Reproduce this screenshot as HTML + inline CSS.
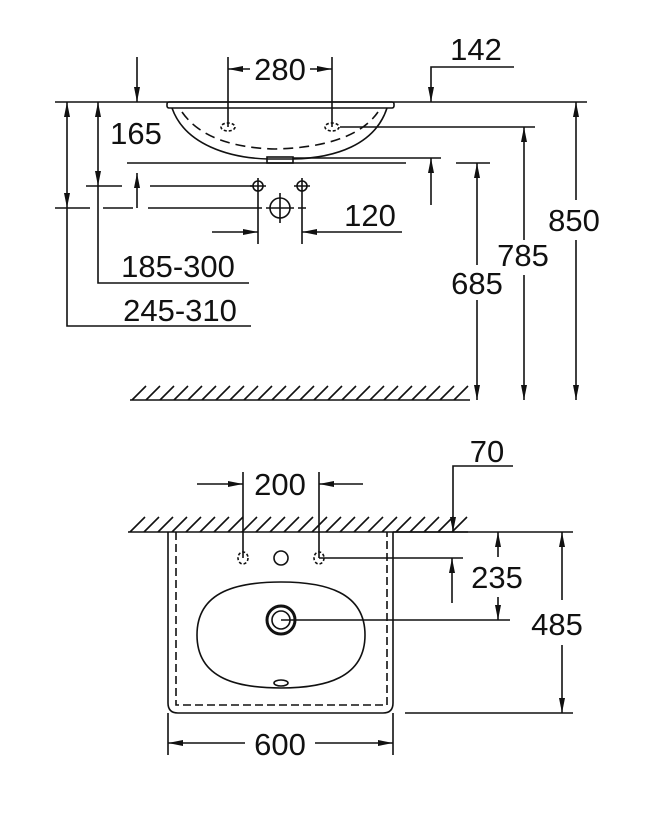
<!DOCTYPE html>
<html><head><meta charset="utf-8"><style>
html,body{margin:0;padding:0;background:#fff;}
svg{display:block;}
text{font-family:"Liberation Sans",sans-serif;font-size:31px;fill:#111;}
</style></head><body>
<svg width="671" height="814" viewBox="0 0 671 814" xmlns="http://www.w3.org/2000/svg">
<g stroke="#111" stroke-width="1.6" fill="none">
<line x1="55" y1="102" x2="587" y2="102"/>
<rect x="167" y="102" width="227" height="6" rx="2"/>
<path d="M172 108 C185 145 230 158 268 159 L293 159 C335 158 375 145 387 108"/>
<path d="M182 112 C200 138 235 148 275 149 C320 148 360 138 378 112" stroke-dasharray="10 6"/>
<rect x="267" y="157" width="26" height="6"/>
<g stroke-dasharray="3 2"><ellipse cx="228" cy="127" rx="7" ry="4"/><ellipse cx="332" cy="127" rx="7" ry="4"/></g>
<line x1="228" y1="57" x2="228" y2="127"/><line x1="332" y1="57" x2="332" y2="127"/>
<line x1="228" y1="69" x2="250" y2="69"/><line x1="310" y1="69" x2="332" y2="69"/>
<polyline points="431,102 431,67 514,67"/>
<line x1="340" y1="127" x2="535" y2="127"/>
<line x1="293" y1="158" x2="441" y2="158"/>
<line x1="127" y1="163" x2="406" y2="163"/>
<line x1="456" y1="163" x2="490" y2="163"/>
<line x1="431" y1="158" x2="431" y2="205"/>
<line x1="477" y1="163" x2="477" y2="265"/><line x1="477" y1="300" x2="477" y2="400"/>
<line x1="524" y1="127" x2="524" y2="240"/><line x1="524" y1="275" x2="524" y2="400"/>
<line x1="576" y1="102" x2="576" y2="200"/><line x1="576" y1="240" x2="576" y2="400"/>
<line x1="130" y1="400" x2="470" y2="400"/>
<path d="M132 400 L146 386 M146 400 L160 386 M160 400 L174 386 M174 400 L188 386 M188 400 L202 386 M202 400 L216 386 M216 400 L230 386 M230 400 L244 386 M244 400 L258 386 M258 400 L272 386 M272 400 L286 386 M286 400 L300 386 M300 400 L314 386 M314 400 L328 386 M328 400 L342 386 M342 400 L356 386 M356 400 L370 386 M370 400 L384 386 M384 400 L398 386 M398 400 L412 386 M412 400 L426 386 M426 400 L440 386 M440 400 L454 386 M454 400 L468 386"/>
<line x1="137" y1="57" x2="137" y2="102"/>
<line x1="137" y1="173" x2="137" y2="208"/>
<polyline points="98,102 98,283 249,283"/>
<polyline points="67,102 67,326 251,326"/>
<path d="M86 186 H122 M150 186 H253"/>
<path d="M55 208 H90 M103 208 H133 M148 208 H262 M298 208 H306"/>
<circle cx="258" cy="186" r="5"/><circle cx="302" cy="186" r="5"/>
<path d="M258 178 V244 M250 186 H266 M302 178 V244 M294 186 H310"/>
<circle cx="280" cy="208" r="10"/>
<path d="M280 193 V223 M266 208 H294"/>
<line x1="212" y1="232" x2="258" y2="232"/><line x1="302" y1="232" x2="402" y2="232"/>

<line x1="128" y1="532" x2="468" y2="532"/>
<line x1="393" y1="532" x2="573" y2="532"/>
<path d="M130 532 L145 517 M144 532 L159 517 M158 532 L173 517 M172 532 L187 517 M186 532 L201 517 M200 532 L215 517 M214 532 L229 517 M228 532 L243 517 M242 532 L257 517 M256 532 L271 517 M270 532 L285 517 M284 532 L299 517 M298 532 L313 517 M312 532 L327 517 M326 532 L341 517 M340 532 L355 517 M354 532 L369 517 M368 532 L383 517 M382 532 L397 517 M396 532 L411 517 M410 532 L425 517 M424 532 L439 517 M438 532 L453 517 M452 532 L467 517"/>
<path d="M168 532 V703 Q168 713 178 713 H383 Q393 713 393 703 V532"/>
<path d="M176 532 V705 H387 V532" stroke-dasharray="8 4"/>
<g stroke-dasharray="3 2"><ellipse cx="243" cy="558" rx="5" ry="6"/><ellipse cx="319" cy="558" rx="5" ry="6"/></g>
<circle cx="281" cy="558" r="7"/>
<path d="M197 635 C197 590 240 582 281 582 C325 582 365 592 365 635 C365 678 325 688 281 688 C240 688 197 680 197 635 Z"/>
<circle cx="281" cy="620" r="14" stroke-width="3"/>
<circle cx="281" cy="620" r="9"/>
<ellipse cx="281" cy="683" rx="7" ry="3"/>
<path d="M243 472 V558 M319 472 V558 M197 484 H243 M319 484 H363"/>
<polyline points="453,532 453,466 513,466"/>
<line x1="319" y1="558" x2="463" y2="558"/>
<line x1="452" y1="558" x2="452" y2="603"/>
<line x1="281" y1="620" x2="510" y2="620"/>
<line x1="498" y1="532" x2="498" y2="557"/><line x1="498" y1="597" x2="498" y2="620"/>
<line x1="405" y1="713" x2="573" y2="713"/>
<line x1="562" y1="532" x2="562" y2="600"/><line x1="562" y1="645" x2="562" y2="713"/>
<path d="M168 713 V755 M393 713 V755 M168 743 H245 M315 743 H393"/>
</g>
<g fill="#111" stroke="none">
<polygon points="228,69 243,66 243,72"/><polygon points="332,69 317,66 317,72"/>
<polygon points="431,102 428,87 434,87"/>
<polygon points="137,102 134,87 140,87"/>
<polygon points="137,173 134,188 140,188"/>
<polygon points="67,102 64,117 70,117"/><polygon points="67,208 64,193 70,193"/>
<polygon points="98,102 95,117 101,117"/><polygon points="98,186 95,171 101,171"/>
<polygon points="258,232 243,229 243,235"/><polygon points="302,232 317,229 317,235"/>
<polygon points="431,158 428,173 434,173"/>
<polygon points="477,163 474,178 480,178"/><polygon points="477,400 474,385 480,385"/>
<polygon points="524,127 521,142 527,142"/><polygon points="524,400 521,385 527,385"/>
<polygon points="576,102 573,117 579,117"/><polygon points="576,400 573,385 579,385"/>
<polygon points="243,484 228,481 228,487"/><polygon points="319,484 334,481 334,487"/>
<polygon points="453,532 450,517 456,517"/>
<polygon points="452,558 449,573 455,573"/>
<polygon points="498,532 495,547 501,547"/><polygon points="498,620 495,605 501,605"/>
<polygon points="562,532 559,547 565,547"/><polygon points="562,713 559,698 565,698"/>
<polygon points="168,743 183,740 183,746"/><polygon points="393,743 378,740 378,746"/>
</g>
<text x="280" y="80" text-anchor="middle">280</text>
<text x="476" y="60" text-anchor="middle">142</text>
<text x="136" y="144" text-anchor="middle">165</text>
<text x="370" y="226" text-anchor="middle">120</text>
<text x="178" y="277" text-anchor="middle">185-300</text>
<text x="180" y="321" text-anchor="middle">245-310</text>
<text x="574" y="231" text-anchor="middle">850</text>
<text x="523" y="266" text-anchor="middle">785</text>
<text x="477" y="294" text-anchor="middle">685</text>
<text x="280" y="495" text-anchor="middle">200</text>
<text x="487" y="462" text-anchor="middle">70</text>
<text x="497" y="588" text-anchor="middle">235</text>
<text x="557" y="635" text-anchor="middle">485</text>
<text x="280" y="755" text-anchor="middle">600</text>
</svg>
</body></html>
